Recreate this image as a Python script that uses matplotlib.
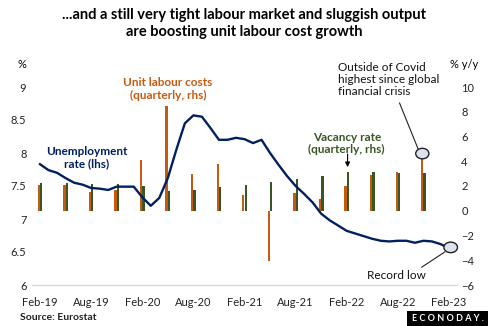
import matplotlib
matplotlib.use("Agg")
import matplotlib.pyplot as plt
from matplotlib.patches import Ellipse, Rectangle

plt.rcParams['font.family'] = ['Lato', 'DejaVu Sans']

# monthly unemployment rate, Feb-19 .. Feb-23 (lhs, %)
unemp = [7.83, 7.74, 7.70, 7.62, 7.55, 7.52, 7.47, 7.46, 7.44, 7.49, 7.49, 7.49,
         7.33, 7.20, 7.32, 7.62, 8.05, 8.45, 8.57, 8.55, 8.38, 8.20, 8.20, 8.23,
         8.21, 8.15, 8.20, 8.00, 7.82, 7.65, 7.50, 7.38, 7.25, 7.08, 6.98, 6.90,
         6.82, 6.78, 6.74, 6.70, 6.67, 6.66, 6.67, 6.67, 6.64, 6.67, 6.66, 6.62,
         6.56]

# quarterly series, Q1-19 .. Q4-22 (rhs, % y/y)
ulc = [2.05, 2.05, 1.55, 1.70, 4.08, 8.48, 2.93, 3.74,
       1.25, -4.03, 1.46, 0.98, 2.00, 2.85, 3.17, 4.62]
vacancy = [2.27, 2.27, 2.13, 2.13, 2.00, 1.60, 1.66, 1.91,
           2.07, 2.30, 2.53, 2.80, 3.12, 3.17, 3.07, 3.07]

xlabels = ['Feb-19', 'Aug-19', 'Feb-20', 'Aug-20', 'Feb-21',
           'Aug-21', 'Feb-22', 'Aug-22', 'Feb-23']

navy = '#002060'
orange = '#C55A11'
green = '#385723'

months = list(range(len(unemp)))
quarters = [3 * i for i in range(len(ulc))]

fig = plt.figure(figsize=(4.89, 3.26), dpi=100)
ax = fig.add_axes([32 / 489, 41 / 326, 425 / 489, 198 / 326])
ax2 = ax.twinx()
ax.set_zorder(ax2.get_zorder() + 1)
ax.patch.set_visible(False)

w = 0.27
ax2.bar([q - 0.14 for q in quarters], ulc, width=w, color=orange)
ax2.bar([q + 0.14 for q in quarters], vacancy, width=w, color=green)
ax2.set_ylim(-6, 10)
ax2.set_yticks(range(-6, 11, 2))

ax.plot(months, unemp, color=navy, lw=1.7)
ax.set_ylim(6, 9)
ax.set_yticks([6, 6.5, 7, 7.5, 8, 8.5, 9])
ax.set_yticklabels(['6', '6.5', '7', '7.5', '8', '8.5', '9'])
ax.set_xlim(-0.94, 48.94)
ax.set_xticks(range(0, 49, 6))
ax.set_xticklabels(xlabels)
ax.axhline(6, color='#d9d9d9', lw=1, clip_on=False)

for a in (ax, ax2):
    for s in a.spines.values():
        s.set_visible(False)
    a.tick_params(length=0, labelsize=8, colors='#222222')
ax.tick_params(axis='y', pad=4)
ax.tick_params(axis='x', pad=9)
ax2.tick_params(axis='y', pad=3)

# annotations
tfont = dict(fontsize=8.5, fontweight='bold')
ax.text(15, 8.97, 'Unit labour costs\n(quarterly, rhs)', color=orange, ha='center',
        va='center', linespacing=1.15, **tfont)
ax.text(5.5, 7.93, 'Unemployment\nrate (lhs)', color=navy, ha='center',
        va='center', linespacing=1.15, **tfont)
ax.text(36, 8.14, 'Vacancy rate\n(quarterly, rhs)', color=green, ha='center',
        va='center', linespacing=1.15, **tfont)
ax2.annotate('', xy=(36.1, 3.3), xytext=(36.1, 4.8),
             arrowprops=dict(arrowstyle='-|>', color='black', lw=0.8, mutation_scale=7))
ax2.text(35, 10.6, 'Outside of Covid\nhighest since global\nfinancial crisis',
         ha='left', va='center', fontsize=8.5, color='#111111', linespacing=1.1)
ax2.plot([42.2, 44.4], [8.7, 4.95], color='#222222', lw=0.8)
ax2.add_patch(Ellipse((44.87, 4.62), 1.55, 0.85, facecolor='#dde3ee',
                      edgecolor='#222222', lw=1, zorder=5))
ax.text(45.3, 6.14, 'Record low', ha='right', va='center', fontsize=8.5, color='#111111')
ax.plot([44.8, 47.5], [6.27, 6.5], color='#222222', lw=0.8)
ax.add_patch(Ellipse((48.2, 6.57), 1.6, 0.16, facecolor='#dde3ee',
                     edgecolor='#222222', lw=1, zorder=5, clip_on=False))

fig.text(0.5, 1 - 23.5 / 326, '...and a still very tight labour market and sluggish output\n'
         'are boosting unit labour cost growth', ha='center', va='center',
         fontsize=10.5, fontweight='bold', linespacing=1.35)
fig.text(18 / 489, 1 - 64 / 326, '%', ha='left', va='center', fontsize=8)
fig.text(464 / 489, 1 - 65 / 326, '% y/y', ha='center', va='center', fontsize=8)
fig.text(20 / 489, 1 - 318 / 326, 'Source: Eurostat', ha='left', va='center',
         fontsize=7.5, fontweight='bold', color='#222222')
fig.patches.append(Rectangle((407 / 489, 0), 82 / 489, 15 / 326, transform=fig.transFigure,
                             facecolor='black', edgecolor='none'))
fig.text(448 / 489, 7.5 / 326, 'E C O N O D A Y .', ha='center', va='center', fontsize=6.5,
         fontweight='bold', color='white')

fig.savefig('out.png', dpi=100)
